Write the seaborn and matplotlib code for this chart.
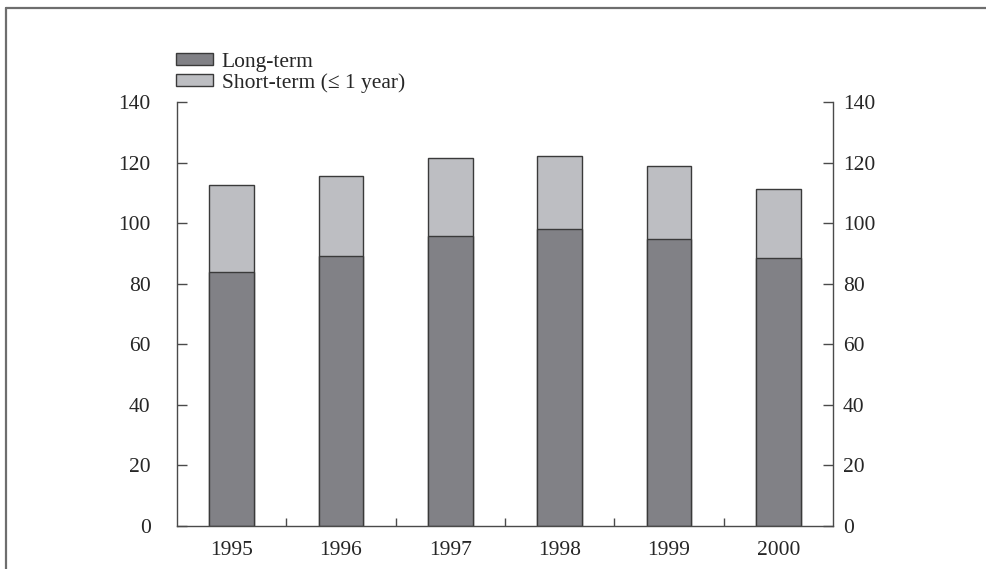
import pandas as pd
import matplotlib.pyplot as plt
import seaborn as sns
from matplotlib.lines import Line2D
from matplotlib.patches import Patch

# Data
years = ["1995", "1996", "1997", "1998", "1999", "2000"]
long_term = [84.0, 89.3, 95.6, 98.1, 94.8, 88.5]
total = [112.5, 115.7, 121.5, 122.1, 118.9, 111.2]

df = pd.DataFrame({"year": years, "long": long_term, "total": total})

sns.set_style("white")
plt.rcParams['font.family'] = ['Liberation Serif', 'DejaVu Serif']

dark = "#818186"
light = "#bdbec2"
edge = "#3a3a3a"
axc = "#4a4a4a"
fs = 15.5

fig = plt.figure(figsize=(9.86, 5.69), dpi=100)
ax = fig.add_axes([0.1795, 0.0756, 0.6653, 0.7451])

# stacked bars: total (short-term on top) then long-term over it
sns.barplot(data=df, x="year", y="total", color=light, width=0.41,
            edgecolor=edge, linewidth=1, saturation=1, ax=ax)
sns.barplot(data=df, x="year", y="long", color=dark, width=0.41,
            edgecolor=edge, linewidth=1, saturation=1, ax=ax)

ax.set_xlim(-0.5, len(years) - 0.5)
ax.set_ylim(0, 140)
ax.set_yticks(range(0, 141, 20))
ax.set_xlabel("")
ax.set_ylabel("")

for s in ["left", "bottom"]:
    ax.spines[s].set_color(axc)
    ax.spines[s].set_linewidth(1)
ax.spines["top"].set_visible(False)
ax.spines["right"].set_visible(False)

ax.set_xticks(range(len(years)))
ax.set_xticklabels(years)
ax.set_xticks([i + 0.5 for i in range(len(years) - 1)], minor=True)
ax.tick_params(axis="x", which="major", length=0, pad=11, labelsize=fs)
ax.tick_params(axis="x", which="minor", direction="in", length=6, width=1,
               color=axc, bottom=True)
ax.tick_params(axis="y", direction="in", length=7, width=1, color=axc,
               pad=19, labelsize=fs, left=True)

# right axis mirrors left
ax2 = ax.twinx()
ax2.set_ylim(0, 140)
ax2.set_yticks(range(0, 141, 20))
for s in ["left", "bottom", "top"]:
    ax2.spines[s].set_visible(False)
ax2.spines["right"].set_color(axc)
ax2.spines["right"].set_linewidth(1)
ax2.tick_params(axis="y", direction="in", length=7, width=1, color=axc,
                pad=7, labelsize=fs, right=True)

handles = [Patch(facecolor=dark, edgecolor=edge, linewidth=1, label="Long-term"),
           Patch(facecolor=light, edgecolor=edge, linewidth=1, label="Short-term (\u2264 1 year)")]
fig.legend(handles=handles, loc="upper left", bbox_to_anchor=(0.178, 0.907),
           frameon=False, fontsize=fs, handlelength=1.75, handleheight=0.5,
           handletextpad=0.4, labelspacing=0.05, borderpad=0, borderaxespad=0)

# outer frame lines (top and left)
fig.add_artist(Line2D([5.5 / 986, 1], [1 - 7.5 / 569] * 2, color="#6e6e6e", lw=1.6))
fig.add_artist(Line2D([5.5 / 986] * 2, [0, 1 - 7.5 / 569], color="#6e6e6e", lw=1.6))

fig.savefig("out.png", dpi=100)
